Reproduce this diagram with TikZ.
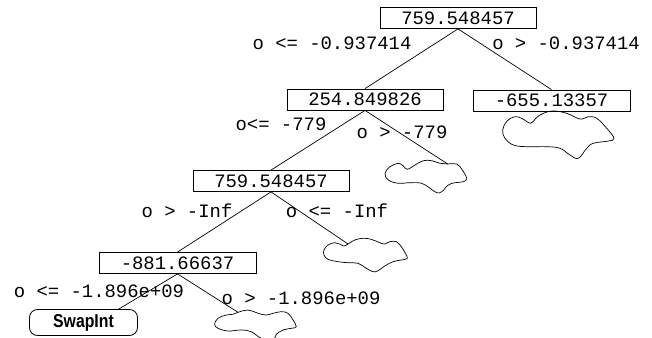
\documentclass[tikz,border=0pt]{standalone}
\usepackage{fontspec}
\newfontfamily\monof{Liberation Mono}
\newfontfamily\swapf{Liberation Sans}[FakeStretch=0.85]
\begin{document}
\begin{tikzpicture}[x=1pt,y=-1pt,
  box/.style={draw, rectangle, line width=0.8pt, minimum width=156pt, minimum height=21pt, inner sep=0pt,
    font=\monof\fontsize{18.9}{20}\selectfont},
  lbl/.style={inner sep=0pt, font=\monof\fontsize{18.9}{20}\selectfont},
  leaf/.style={draw, rectangle, rounded corners=8pt, line width=0.8pt, minimum width=108pt, minimum height=26pt, inner sep=0pt,
    font=\swapf\bfseries\fontsize{18.6}{20}\selectfont},
  edge/.style={line width=0.7pt},
  cloudline/.style={line width=0.7pt}]
\useasboundingbox (0,0) rectangle (652,337);

% boxes
\node[box] (root) at (458,18) {759.548457};
\node[box] (n2) at (365,99.5) {254.849826};
\node[box, minimum width=157pt] (n3) at (551.5,100.5) {-655.13357};
\node[box] (n4) at (271,181) {759.548457};
\node[box, minimum width=157pt] (n5) at (177.5,263) {-881.66637};
\node[leaf] (swap) at (83.5,322.5) {SwapInt};

% labels
\node[lbl] (l1) at (332,43) {o <= -0.937414};
\node[lbl] (l2) at (566,43) {o > -0.937414};
\node[lbl] (l3) at (281,124) {o<= -779};
\node[lbl] (l4) at (402,132) {o > -779};
\node[lbl] (l5) at (187,211) {o > -Inf};
\node[lbl] (l6) at (337,211) {o <= -Inf};
\node[lbl] (l7) at (99,291) {o <= -1.896e+09};
\node[lbl] (l8) at (301,298) {o > -1.896e+09};

% cloud attachment points
\coordinate (c2in) at (447.7,164);
\coordinate (c3in) at (348,244);
\coordinate (c4in) at (238,312.3);
\coordinate (swapin) at (118,309.5);

% edges
\draw[edge] (root.south) -- (n2.north);
\draw[edge] (root.south) -- (n3.north);
\draw[edge] (n2.south) -- (n4.north);
\draw[edge] (n2.south) -- (c2in);
\draw[edge] (n4.south) -- (n5.north);
\draw[edge] (n4.south) -- (c3in);
\draw[edge] (n5.south) -- (swapin);
\draw[edge] (n5.south) -- (c4in);

% clouds
\draw[cloudline] plot[smooth cycle, tension=0.65] coordinates {
  (502.7,130) (507,121) (515,116.7) (522,118.5) (530.7,123.3) (536,118) (543.3,113.3) (553.3,111)
  (566.7,113.3) (580,119) (588.3,116.7) (596.7,118.3) (606.7,128.3) (614,138.3) (608.3,141)
  (593.3,143.3) (586.7,148.3) (578.3,158.3) (570,155) (560,148.3) (546.7,146.7) (526.7,146.7)
  (513.3,145) (505,138.3)};
\draw[cloudline] plot[smooth cycle, tension=0.65] coordinates {
  (385,173.3) (390,166.7) (398.3,163.3) (403.3,166) (407.3,169.3) (415,165) (423.3,160.7)
  (431.7,160.7) (440,163.3) (447.7,164) (456.7,164) (462.3,170) (466.7,178.3) (463.3,181.7)
  (455,182.7) (448.3,185) (441.7,191.7) (436.7,192.7) (430,188.3) (421.7,183.3) (410,182.7)
  (398.3,183.3) (388.3,180)};
\draw[cloudline] plot[smooth cycle, tension=0.65] coordinates {
  (324,250) (328,245) (334.7,242.7) (339.7,244) (344,246) (348,244) (354.7,240) (363,238.3)
  (371.3,239.3) (379.7,242.7) (384.7,244) (389.7,241.7) (396.3,241.7) (401.3,246.7)
  (405.3,253.3) (407.3,258.3) (401.3,260) (393,261.7) (384.7,266) (378,270.7) (373,271.7)
  (366.3,268.3) (358,263.3) (348,262.7) (338,261.7) (328,259.3) (324,255)};
\draw[cloudline] plot[smooth cycle, tension=0.65] coordinates {
  (214.7,323.3) (218,318.3) (226.3,315) (233,314.3) (238,312.3) (248,310) (258,313.3)
  (266.3,315) (273,313.3) (281.3,311.7) (288,313.3) (293,320) (296.3,326.7) (291.3,328.3)
  (283,330) (276.3,334.3) (273,340) (261.3,338.3) (251.3,331.7) (241.3,330) (228,331)
  (218,328.3) (214.7,325)};
\end{tikzpicture}
\end{document}
